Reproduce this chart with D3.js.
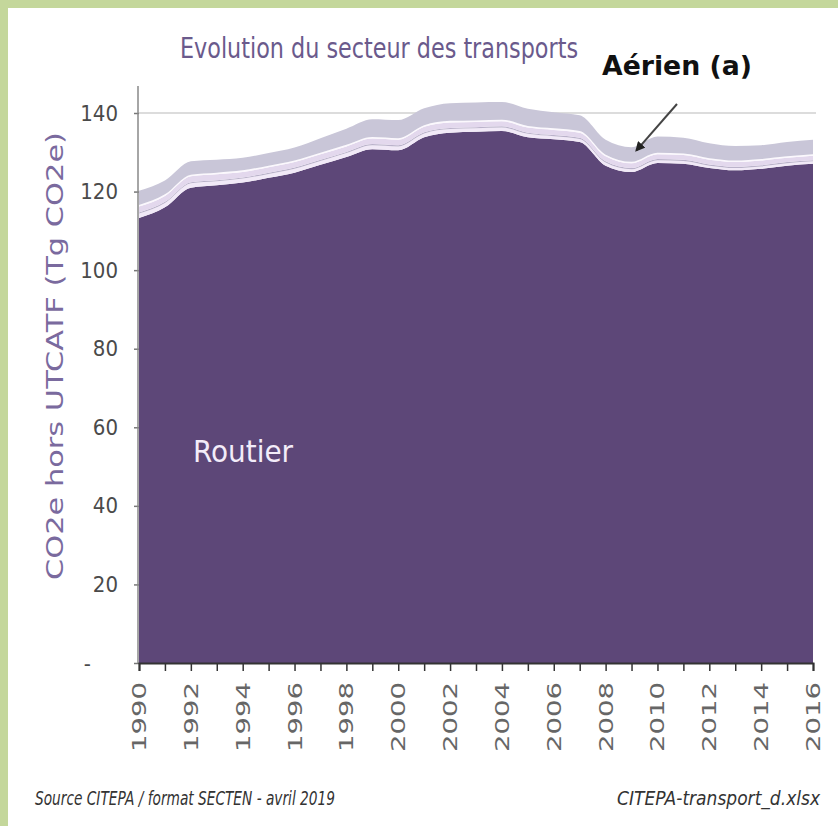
<!DOCTYPE html>
<html>
<head>
<meta charset="utf-8">
<script src="https://cdn.jsdelivr.net/npm/d3@7"></script>
<style>
  body { margin: 0; background: #fff; }
  svg { display: block; }
</style>
</head>
<body>
<svg id="chart" width="838" height="826"></svg>
<script>
// years and sector series (Tg CO2e)
var years = d3.range(1990, 2017);
var routier = [113.3, 116.0, 121.0, 121.6, 122.3, 123.5, 124.8, 126.8, 128.8, 130.8, 130.5, 133.8, 135.0, 135.2, 135.4, 133.8, 133.3, 132.6, 126.6, 125.0, 127.3, 127.1, 126.0, 125.4, 125.8, 126.6, 127.1];
var ferroviaire = [1.1, 1.1, 1.1, 1.0, 1.0, 1.0, 1.0, 1.0, 1.0, 1.0, 1.0, 1.0, 0.9, 0.9, 0.9, 0.9, 0.8, 0.8, 0.8, 0.7, 0.7, 0.7, 0.6, 0.6, 0.6, 0.6, 0.6];
var fluvial = [0.3, 0.3, 0.3, 0.3, 0.3, 0.3, 0.3, 0.3, 0.3, 0.3, 0.3, 0.3, 0.3, 0.3, 0.3, 0.3, 0.3, 0.3, 0.3, 0.3, 0.3, 0.3, 0.3, 0.3, 0.3, 0.3, 0.3];
var maritime = [1.5, 1.5, 1.5, 1.5, 1.4, 1.4, 1.4, 1.4, 1.4, 1.4, 1.4, 1.4, 1.4, 1.3, 1.3, 1.3, 1.3, 1.3, 1.3, 1.2, 1.2, 1.2, 1.2, 1.2, 1.2, 1.1, 1.1];
var autres = [0.4, 0.4, 0.4, 0.4, 0.4, 0.4, 0.4, 0.4, 0.4, 0.4, 0.4, 0.4, 0.4, 0.4, 0.4, 0.4, 0.4, 0.4, 0.4, 0.4, 0.4, 0.4, 0.4, 0.4, 0.4, 0.4, 0.4];
var aerien = [3.6, 3.5, 3.4, 3.3, 3.2, 3.2, 3.3, 3.7, 4.1, 4.5, 4.6, 4.3, 4.5, 4.6, 4.5, 4.4, 4.1, 4.0, 3.8, 3.7, 4.1, 4.0, 3.8, 3.7, 3.5, 3.6, 3.7];
var yTicks = [0, 20, 40, 60, 80, 100, 120, 140];
var xTicks = [1990, 1992, 1994, 1996, 1998, 2000, 2002, 2004, 2006, 2008, 2010, 2012, 2014, 2016];

var keys = ['routier', 'ferroviaire', 'fluvial', 'maritime', 'autres', 'aerien'];
var colors = ['#5d4778', '#f1e9f7', '#bab2ca', '#e3d8ed', '#fbf8fd', '#c9c6d8'];
var series = { routier: routier, ferroviaire: ferroviaire, fluvial: fluvial,
               maritime: maritime, autres: autres, aerien: aerien };

var table = years.map(function (yr, i) {
    var row = { year: yr };
    keys.forEach(function (k) { row[k] = series[k][i]; });
    return row;
});

var narrow = '"Liberation Sans Narrow", "DejaVu Sans Condensed", sans-serif';

var svg = d3.select('#chart');

// green frame (top and left)
svg.append('rect').attr('x', 0).attr('y', 0).attr('width', 838).attr('height', 8).attr('fill', '#c4d79b');
svg.append('rect').attr('x', 0).attr('y', 0).attr('width', 8).attr('height', 826).attr('fill', '#c4d79b');

var x = d3.scaleLinear().domain([1990, 2016]).range([139, 813]);
var y = d3.scaleLinear().domain([0, 140]).range([663, 113]);

// grid line at 140
svg.append('line')
    .attr('x1', x(1990)).attr('x2', 816)
    .attr('y1', y(140)).attr('y2', y(140))
    .attr('stroke', '#dcdcdc').attr('stroke-width', 2);

var stacked = d3.stack().keys(keys)(table);

var area = d3.area()
    .x(function (d) { return x(d.data.year); })
    .y0(function (d) { return y(d[0]); })
    .y1(function (d) { return y(d[1]); })
    .curve(d3.curveMonotoneX);

svg.append('g').selectAll('path')
    .data(stacked)
    .join('path')
    .attr('d', area)
    .attr('fill', function (d, i) { return colors[i]; });

// y axis
var yAxis = svg.append('g')
    .attr('transform', 'translate(' + x(1990) + ',0)')
    .call(d3.axisLeft(y).tickValues(yTicks).tickSize(5).tickPadding(16)
        .tickFormat(function (d) { return d === 0 ? '-' : d; }));
yAxis.select('.domain').remove();
yAxis.append('line')
    .attr('x1', -1).attr('x2', -1).attr('y1', 86).attr('y2', y(0))
    .attr('stroke', '#888').attr('stroke-width', 1.5);
yAxis.selectAll('.tick line').attr('stroke', '#777').attr('stroke-width', 1.5);
yAxis.selectAll('.tick text')
    .attr('fill', '#4a4a4a')
    .style('font-family', narrow)
    .style('font-size', '22px');
// Excel shows the zero as a dash, set further left
yAxis.selectAll('.tick text')
    .filter(function (d) { return +d === 0; })
    .attr('x', -48);

// x axis
var xAxis = svg.append('g')
    .attr('transform', 'translate(0,' + y(0) + ')')
    .call(d3.axisBottom(x).tickValues(years).tickSize(8).tickFormat(''));
xAxis.select('.domain').attr('stroke', '#333').attr('stroke-width', 2);
xAxis.selectAll('.tick line').attr('stroke', '#333').attr('stroke-width', 1.5);

svg.append('g').selectAll('text')
    .data(xTicks)
    .join('text')
    .attr('transform', function (d) { return 'translate(' + (x(d) + 7) + ',752) rotate(-90)'; })
    .attr('textLength', 70)
    .attr('lengthAdjust', 'spacingAndGlyphs')
    .attr('fill', '#666')
    .style('font-family', '"DejaVu Sans", sans-serif')
    .style('font-size', '20px')
    .text(function (d) { return d; });

// y axis title
svg.append('text')
    .attr('transform', 'translate(63,356) rotate(-90)')
    .attr('text-anchor', 'middle')
    .attr('textLength', 448)
    .attr('lengthAdjust', 'spacingAndGlyphs')
    .attr('fill', '#7a6a9e')
    .style('font-family', '"DejaVu Sans", sans-serif')
    .style('font-size', '23px')
    .text('CO2e hors UTCATF (Tg CO2e)');

// title
svg.append('text')
    .attr('x', 180).attr('y', 58)
    .attr('textLength', 398)
    .attr('lengthAdjust', 'spacingAndGlyphs')
    .attr('fill', '#6a5a8c')
    .style('font-family', narrow)
    .style('font-size', '28px')
    .text('Evolution du secteur des transports');

// Aérien label and arrow
svg.append('text')
    .attr('x', 602).attr('y', 75)
    .attr('textLength', 150)
    .attr('lengthAdjust', 'spacingAndGlyphs')
    .attr('fill', '#111')
    .style('font-family', narrow)
    .style('font-weight', 'bold')
    .style('font-size', '27px')
    .text('Aérien (a)');

svg.append('defs').append('marker')
    .attr('id', 'head')
    .attr('viewBox', '0 0 10 10')
    .attr('refX', 8).attr('refY', 5)
    .attr('markerWidth', 5).attr('markerHeight', 5)
    .attr('orient', 'auto')
    .append('path').attr('d', 'M0,0L10,5L0,10z').attr('fill', '#222');

svg.append('line')
    .attr('x1', 677).attr('y1', 104)
    .attr('x2', x(2009.5) - 8).attr('y2', y(131) + 2)
    .attr('stroke', '#444').attr('stroke-width', 2)
    .attr('marker-end', 'url(#head)');

// Routier label
svg.append('text')
    .attr('x', 193).attr('y', 462)
    .attr('textLength', 100)
    .attr('lengthAdjust', 'spacingAndGlyphs')
    .attr('fill', '#f3ecf9')
    .style('font-family', narrow)
    .style('font-size', '30px')
    .text('Routier');

// footer
svg.append('text')
    .attr('x', 35).attr('y', 805)
    .attr('textLength', 300)
    .attr('lengthAdjust', 'spacingAndGlyphs')
    .attr('fill', '#333')
    .style('font-family', narrow)
    .style('font-style', 'italic')
    .style('font-size', '19px')
    .text('Source CITEPA / format SECTEN - avril 2019');

svg.append('text')
    .attr('x', 820).attr('y', 805)
    .attr('text-anchor', 'end')
    .attr('textLength', 203)
    .attr('lengthAdjust', 'spacingAndGlyphs')
    .attr('fill', '#333')
    .style('font-family', narrow)
    .style('font-style', 'italic')
    .style('font-size', '19px')
    .text('CITEPA-transport_d.xlsx');
</script>
</body>
</html>
